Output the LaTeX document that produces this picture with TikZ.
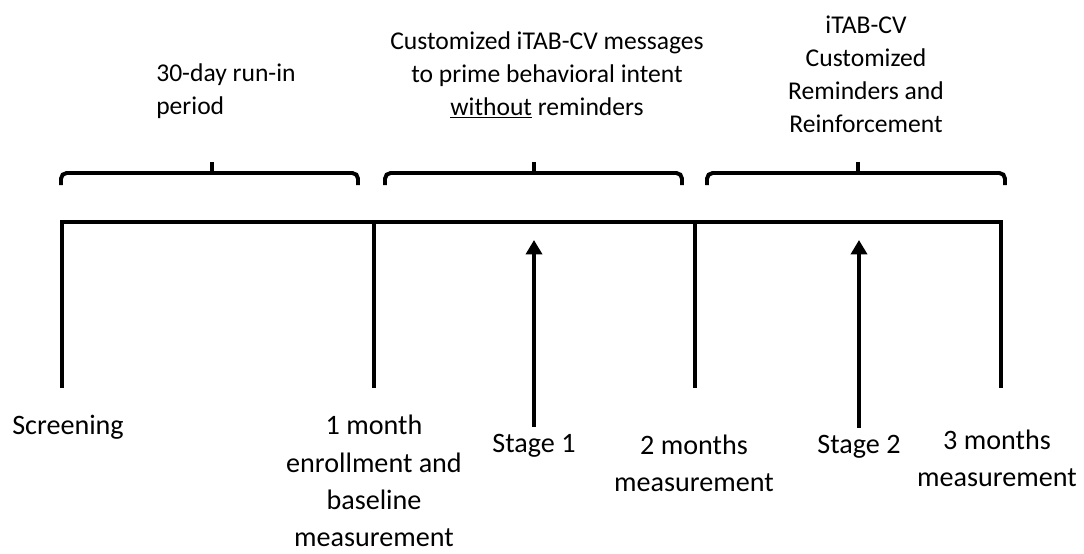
\documentclass[tikz,border=0pt]{standalone}
\usepackage{fontspec}
\setmainfont{Carlito}
\usetikzlibrary{arrows.meta,positioning}

\begin{document}
\begin{tikzpicture}[
  x=0.025cm, y=-0.025cm,
  toplabel/.style={
    align=center,
    inner sep=0pt,
    font=\fontsize{18.2}{23.4}\selectfont
  },
  botlabel/.style={
    align=center,
    inner sep=0pt,
    font=\fontsize{20}{26.5}\selectfont
  },
  axis/.style={line width=3.2pt},
  brace/.style={line width=2.8pt, rounded corners=4pt},
  arrow/.style={-{Triangle[length=0.36cm,width=0.4cm]}, line width=2.6pt, shorten <=0.18cm}
]
\useasboundingbox (0,0) rectangle (1084,553);

% timeline
\coordinate (t0) at (62,222);
\coordinate (t1) at (374,222);
\coordinate (t2) at (695,222);
\coordinate (t3) at (1001,222);
\draw[axis] (62,388) -- (t0) -- (t3) -- (1001,388);
\draw[axis] (t1) -- (374,388);
\draw[axis] (t2) -- (695,388);

% braces over the periods
\foreach \a/\m/\b in {61/212/358, 385/534/682, 707/858/1005}{
  \draw[brace] (\a,185) |- (\b,173) -- (\b,185);
  \draw[line width=2.8pt] (\m,174) -- (\m,162);
}

% period labels
\node[toplabel, align=left, anchor=west] (runin) at (156,91) {30-day run-in\\period};
\node[toplabel] (msgs) at (547,75) {Customized iTAB-CV messages\\to prime behavioral intent\\\underline{without} reminders};
\node[toplabel] (remind) at (866,74) {iTAB-CV\\Customized\\Reminders and\\Reinforcement};

% time points
\node[botlabel] (screen) at (68,427) {Screening};
\node[botlabel] (enrol) at (374,481) {1 month\\enrollment and\\baseline\\measurement};
\node[botlabel] (stage1) at (534,446) {Stage 1};
\node[botlabel] (twomo) at (694,463) {2 months\\measurement};
\node[botlabel] (stage2) at (859,447) {Stage 2};
\node[botlabel] (threemo) at (997,458) {3 months\\measurement};

% stage arrows
\coordinate (s1tip) at (534,240);
\coordinate (s2tip) at (859,240);
\draw[arrow] (stage1.north) -- (s1tip);
\draw[arrow] (stage2.north) -- (s2tip);

\end{tikzpicture}
\end{document}
